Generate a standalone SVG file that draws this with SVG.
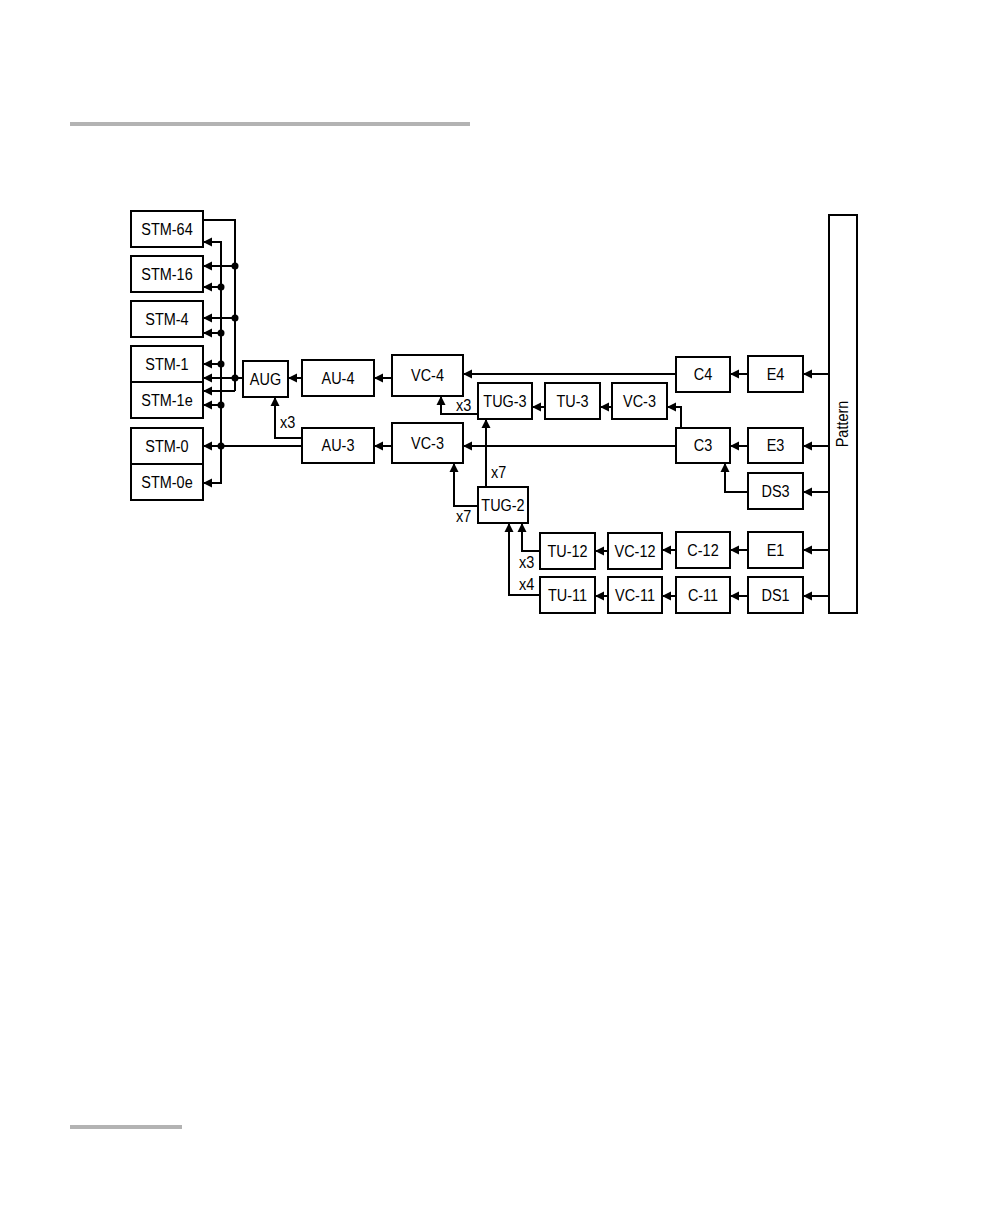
<svg xmlns="http://www.w3.org/2000/svg" width="1008" height="1224" viewBox="0 0 1008 1224">
<style>
.b{fill:#fff;stroke:#000;stroke-width:2}
.t{font-family:"Liberation Sans",Arial,sans-serif;font-size:17px;fill:#000;text-anchor:middle;dominant-baseline:central}
.l{font-family:"Liberation Sans",Arial,sans-serif;font-size:17px;fill:#000}
.c{fill:none;stroke:#000;stroke-width:2;marker-end:url(#a)}
.n{fill:none;stroke:#000;stroke-width:2}
</style>
<defs>
<marker id="a" markerUnits="userSpaceOnUse" markerWidth="9" markerHeight="10" refX="8" refY="5" orient="auto">
<path d="M0,0.5 L9,5 L0,9.5 z" fill="#000"/>
</marker>
</defs>
<rect x="70" y="122" width="400" height="4" fill="#b3b3b3"/>
<rect x="70" y="1125" width="112" height="4" fill="#b3b3b3"/>
<g id="connectors">
<path class="n" d="M203,220 H235 V391"/>
<path class="c" d="M235,391 H204"/>
<path class="c" d="M235,266 H204"/>
<path class="c" d="M235,318 H204"/>
<path class="c" d="M243,378 H204"/>
<path class="c" d="M221,446 V242 H204"/>
<path class="c" d="M221,446 V483 H204"/>
<path class="c" d="M221,287 H204"/>
<path class="c" d="M221,333 H204"/>
<path class="c" d="M221,364 H204"/>
<path class="c" d="M221,405 H204"/>
<path class="c" d="M302,446 H204"/>
<g fill="#000">
<circle cx="235" cy="266" r="3.5"/><circle cx="235" cy="318" r="3.5"/><circle cx="235" cy="378" r="3.5"/>
<circle cx="221" cy="287" r="3.5"/><circle cx="221" cy="333" r="3.5"/><circle cx="221" cy="364" r="3.5"/><circle cx="221" cy="405" r="3.5"/><circle cx="221" cy="446" r="3.5"/>
</g>
<path class="c" d="M302,378 H289"/>
<path class="c" d="M392,378 H375"/>
<path class="c" d="M676,374 H464"/>
<path class="c" d="M748,374 H731"/>
<path class="c" d="M829,374 H804"/>
<path class="c" d="M478,414 H441 V397"/>
<path class="c" d="M545,407 H533"/>
<path class="c" d="M612,407 H601"/>
<path class="c" d="M681,428 V407 H668"/>
<path class="c" d="M302,438 H275 V398"/>
<path class="c" d="M392,446 H375"/>
<path class="c" d="M676,446 H464"/>
<path class="c" d="M748,446 H731"/>
<path class="c" d="M829,446 H804"/>
<path class="c" d="M748,492 H725 V464"/>
<path class="c" d="M829,492 H804"/>
<path class="c" d="M486,487 V420"/>
<path class="c" d="M478,506 H454 V464"/>
<path class="c" d="M540,551 H522 V524"/>
<path class="c" d="M540,595 H509 V524"/>
<path class="c" d="M608,551 H596"/>
<path class="c" d="M676,550 H663"/>
<path class="c" d="M748,550 H731"/>
<path class="c" d="M829,550 H804"/>
<path class="c" d="M608,596 H596"/>
<path class="c" d="M676,596 H663"/>
<path class="c" d="M748,596 H731"/>
<path class="c" d="M829,596 H804"/>
<text class="l" transform="translate(280,428) scale(0.85,1)">x3</text>
<text class="l" transform="translate(456,411) scale(0.85,1)">x3</text>
<text class="l" transform="translate(491,478) scale(0.85,1)">x7</text>
<text class="l" transform="translate(456,522) scale(0.85,1)">x7</text>
<text class="l" transform="translate(519,568) scale(0.85,1)">x3</text>
<text class="l" transform="translate(519,590) scale(0.85,1)">x4</text>
</g>
<g id="stm64"><rect class="b" x="131" y="211" width="72" height="36"/><text class="t" transform="translate(167,229) scale(0.85,1)">STM-64</text></g>
<g id="stm16"><rect class="b" x="131" y="256" width="72" height="36"/><text class="t" transform="translate(167,274) scale(0.85,1)">STM-16</text></g>
<g id="stm4"><rect class="b" x="131" y="301" width="72" height="36"/><text class="t" transform="translate(167,319) scale(0.85,1)">STM-4</text></g>
<g id="stm1"><rect class="b" x="131" y="346" width="72" height="36"/><text class="t" transform="translate(167,364) scale(0.85,1)">STM-1</text></g>
<g id="stm1e"><rect class="b" x="131" y="382" width="72" height="36"/><text class="t" transform="translate(167,400) scale(0.85,1)">STM-1e</text></g>
<g id="stm0"><rect class="b" x="131" y="428" width="72" height="36"/><text class="t" transform="translate(167,446) scale(0.85,1)">STM-0</text></g>
<g id="stm0e"><rect class="b" x="131" y="464" width="72" height="36"/><text class="t" transform="translate(167,482) scale(0.85,1)">STM-0e</text></g>
<g id="aug"><rect class="b" x="243" y="361" width="45" height="36"/><text class="t" transform="translate(265.5,379) scale(0.85,1)">AUG</text></g>
<g id="au4"><rect class="b" x="302" y="360" width="72" height="36"/><text class="t" transform="translate(338,378) scale(0.85,1)">AU-4</text></g>
<g id="vc4"><rect class="b" x="392" y="355" width="71" height="41"/><text class="t" transform="translate(427.5,375.5) scale(0.85,1)">VC-4</text></g>
<g id="au3"><rect class="b" x="302" y="428" width="72" height="35"/><text class="t" transform="translate(338,445.5) scale(0.85,1)">AU-3</text></g>
<g id="vc3a"><rect class="b" x="392" y="423" width="71" height="40"/><text class="t" transform="translate(427.5,443) scale(0.85,1)">VC-3</text></g>
<g id="tug3"><rect class="b" x="478" y="383" width="54" height="36"/><text class="t" transform="translate(505,401) scale(0.85,1)">TUG-3</text></g>
<g id="tu3"><rect class="b" x="545" y="383" width="55" height="36"/><text class="t" transform="translate(572.5,401) scale(0.85,1)">TU-3</text></g>
<g id="vc3b"><rect class="b" x="612" y="383" width="55" height="36"/><text class="t" transform="translate(639.5,401) scale(0.85,1)">VC-3</text></g>
<g id="tug2"><rect class="b" x="478" y="487" width="50" height="36"/><text class="t" transform="translate(503,505) scale(0.85,1)">TUG-2</text></g>
<g id="tu12"><rect class="b" x="540" y="533" width="55" height="36"/><text class="t" transform="translate(567.5,551) scale(0.85,1)">TU-12</text></g>
<g id="vc12"><rect class="b" x="608" y="533" width="54" height="36"/><text class="t" transform="translate(635,551) scale(0.85,1)">VC-12</text></g>
<g id="tu11"><rect class="b" x="540" y="577" width="55" height="36"/><text class="t" transform="translate(567.5,595) scale(0.85,1)">TU-11</text></g>
<g id="vc11"><rect class="b" x="608" y="577" width="54" height="36"/><text class="t" transform="translate(635,595) scale(0.85,1)">VC-11</text></g>
<g id="c4"><rect class="b" x="676" y="357" width="54" height="35"/><text class="t" transform="translate(703,374.5) scale(0.85,1)">C4</text></g>
<g id="c3"><rect class="b" x="676" y="428" width="54" height="35"/><text class="t" transform="translate(703,445.5) scale(0.85,1)">C3</text></g>
<g id="c12"><rect class="b" x="676" y="532" width="54" height="36"/><text class="t" transform="translate(703,550) scale(0.85,1)">C-12</text></g>
<g id="c11"><rect class="b" x="676" y="577" width="54" height="36"/><text class="t" transform="translate(703,595) scale(0.85,1)">C-11</text></g>
<g id="e4"><rect class="b" x="748" y="356" width="55" height="36"/><text class="t" transform="translate(775.5,374) scale(0.85,1)">E4</text></g>
<g id="e3"><rect class="b" x="748" y="428" width="55" height="35"/><text class="t" transform="translate(775.5,445.5) scale(0.85,1)">E3</text></g>
<g id="ds3"><rect class="b" x="748" y="473" width="55" height="36"/><text class="t" transform="translate(775.5,491) scale(0.85,1)">DS3</text></g>
<g id="e1"><rect class="b" x="748" y="532" width="55" height="36"/><text class="t" transform="translate(775.5,550) scale(0.85,1)">E1</text></g>
<g id="ds1"><rect class="b" x="748" y="577" width="55" height="36"/><text class="t" transform="translate(775.5,595) scale(0.85,1)">DS1</text></g>
<g id="pattern"><rect class="b" x="829" y="215" width="28" height="398"/><text class="t" transform="translate(842,424) rotate(-90) scale(0.85,1)">Pattern</text></g>
</svg>
